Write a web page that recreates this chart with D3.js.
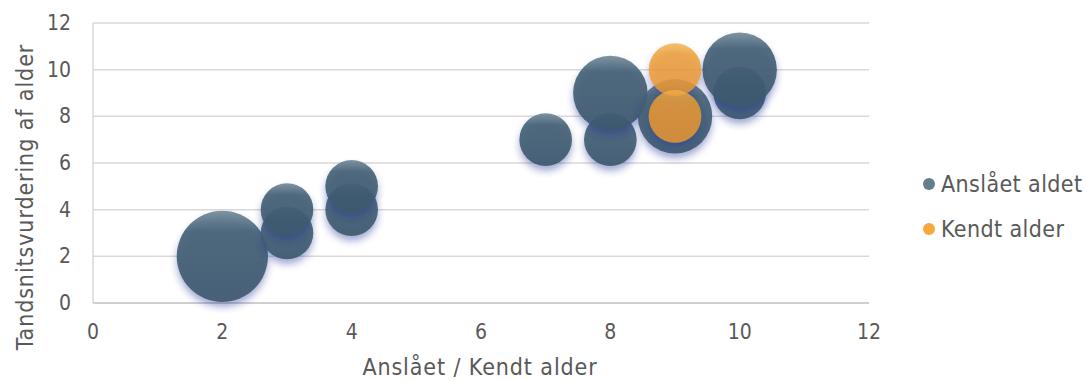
<!DOCTYPE html>
<meta charset="utf-8">
<script src="https://cdn.jsdelivr.net/npm/d3@7"></script>
<style>
  body { margin: 0; background: #fff; }
  text { font-family: "DejaVu Sans Condensed", "DejaVu Sans", sans-serif; fill: #595959; }
</style>
<div id="chart"></div>
<script>
// data
var seriesNames = ["Anslået aldet", "Kendt alder"];
var anslaaetX = [2, 3, 3, 4, 4, 7, 8, 8, 9, 10, 10];
var anslaaetY = [2, 3, 4, 4, 5, 7, 7, 9, 8, 9, 10];
var anslaaetSize = [3, 1, 1, 1, 1, 1, 1, 2, 2, 1, 2];
var kendtX = [9, 9];
var kendtY = [10, 8];
var kendtSize = [1, 1];
var xTicks = [0, 2, 4, 6, 8, 10, 12];
var yTicks = [0, 2, 4, 6, 8, 10, 12];

var width = 1087, height = 381;
var margin = {top: 23, right: 218, bottom: 78, left: 93};

var svg = d3.select("#chart").append("svg")
    .attr("width", width)
    .attr("height", height);

var x = d3.scaleLinear().domain([0, 12]).range([margin.left, width - margin.right]);
var y = d3.scaleLinear().domain([0, 12]).range([height - margin.bottom, margin.top]);
var r = d3.scaleSqrt().domain([0, 3]).range([0, 45.6]);

var defs = svg.append("defs");

function grad(id, top, mid, base) {
  var g = defs.append("linearGradient").attr("id", id)
      .attr("x1", 0).attr("y1", 0).attr("x2", 0).attr("y2", 1);
  g.append("stop").attr("offset", "0%").attr("stop-color", top);
  g.append("stop").attr("offset", "22%").attr("stop-color", mid);
  g.append("stop").attr("offset", "100%").attr("stop-color", base);
}
grad("gBlue", "#71899a", "#446074", "#3c586c");
grad("gOrange", "#f4b04c", "#ef9d20", "#ec9714");

var f = defs.append("filter").attr("id", "shadow")
    .attr("x", "-30%").attr("y", "-30%").attr("width", "160%").attr("height", "170%");
f.append("feDropShadow").attr("dx", 0).attr("dy", 5).attr("stdDeviation", 3.5)
    .attr("flood-color", "#22309a").attr("flood-opacity", 0.45);

// gridlines
svg.append("g").selectAll("line")
  .data(yTicks.slice(1))
  .join("line")
    .attr("x1", x(0)).attr("x2", x(12))
    .attr("y1", d => y(d)).attr("y2", d => y(d))
    .attr("stroke", "#d9d9d9").attr("stroke-width", 1.5);

svg.append("line")
    .attr("x1", x(0)).attr("x2", x(0)).attr("y1", y(0)).attr("y2", y(12))
    .attr("stroke", "#d9d9d9").attr("stroke-width", 1.5);
svg.append("line")
    .attr("x1", x(0)).attr("x2", x(12)).attr("y1", y(0)).attr("y2", y(0))
    .attr("stroke", "#bfbfbf").attr("stroke-width", 1.5);

// tick labels
svg.append("g").selectAll("text")
  .data(xTicks)
  .join("text")
    .attr("x", d => x(d)).attr("y", y(0) + 36)
    .attr("text-anchor", "middle")
    .style("font-size", "21px")
    .text(d => d);

svg.append("g").selectAll("text")
  .data(yTicks)
  .join("text")
    .attr("x", x(0) - 22).attr("y", d => y(d) + 7)
    .attr("text-anchor", "end")
    .style("font-size", "21px")
    .text(d => d);

// axis titles
svg.append("text")
    .attr("x", 480).attr("y", 375)
    .attr("text-anchor", "middle")
    .style("font-size", "23px")
    .style("letter-spacing", "0.9px")
    .text("Anslået / Kendt alder");

svg.append("text")
    .attr("transform", "translate(33,197) rotate(-90)")
    .attr("text-anchor", "middle")
    .style("font-size", "23px")
    .style("letter-spacing", "0.9px")
    .text("Tandsnitsvurdering af alder");

// bubbles
var blue = anslaaetX.map((v, i) => ({x: v, y: anslaaetY[i], s: anslaaetSize[i]}));
var orange = kendtX.map((v, i) => ({x: v, y: kendtY[i], s: kendtSize[i]}));

svg.append("g").selectAll("circle")
  .data(blue)
  .join("circle")
    .attr("cx", d => x(d.x)).attr("cy", d => y(d.y)).attr("r", d => r(d.s))
    .attr("fill", "url(#gBlue)").attr("fill-opacity", 0.9)
    .attr("filter", "url(#shadow)");

svg.append("g").selectAll("circle")
  .data(orange)
  .join("circle")
    .attr("cx", d => x(d.x)).attr("cy", d => y(d.y)).attr("r", d => r(d.s))
    .attr("fill", "url(#gOrange)").attr("fill-opacity", 0.8)
    .attr("filter", "url(#shadow)");

// legend
var legColors = ["#637f8e", "#f5a93c"];
var leg = svg.append("g").selectAll("g")
  .data(seriesNames)
  .join("g")
    .attr("transform", (d, i) => "translate(929," + (184 + i * 45) + ")");
leg.append("circle").attr("r", 6).attr("fill", (d, i) => legColors[i]);
leg.append("text").attr("x", 12).attr("y", 8)
    .style("font-size", "23px")
    .style("letter-spacing", "0.4px")
    .text(d => d);
</script>
